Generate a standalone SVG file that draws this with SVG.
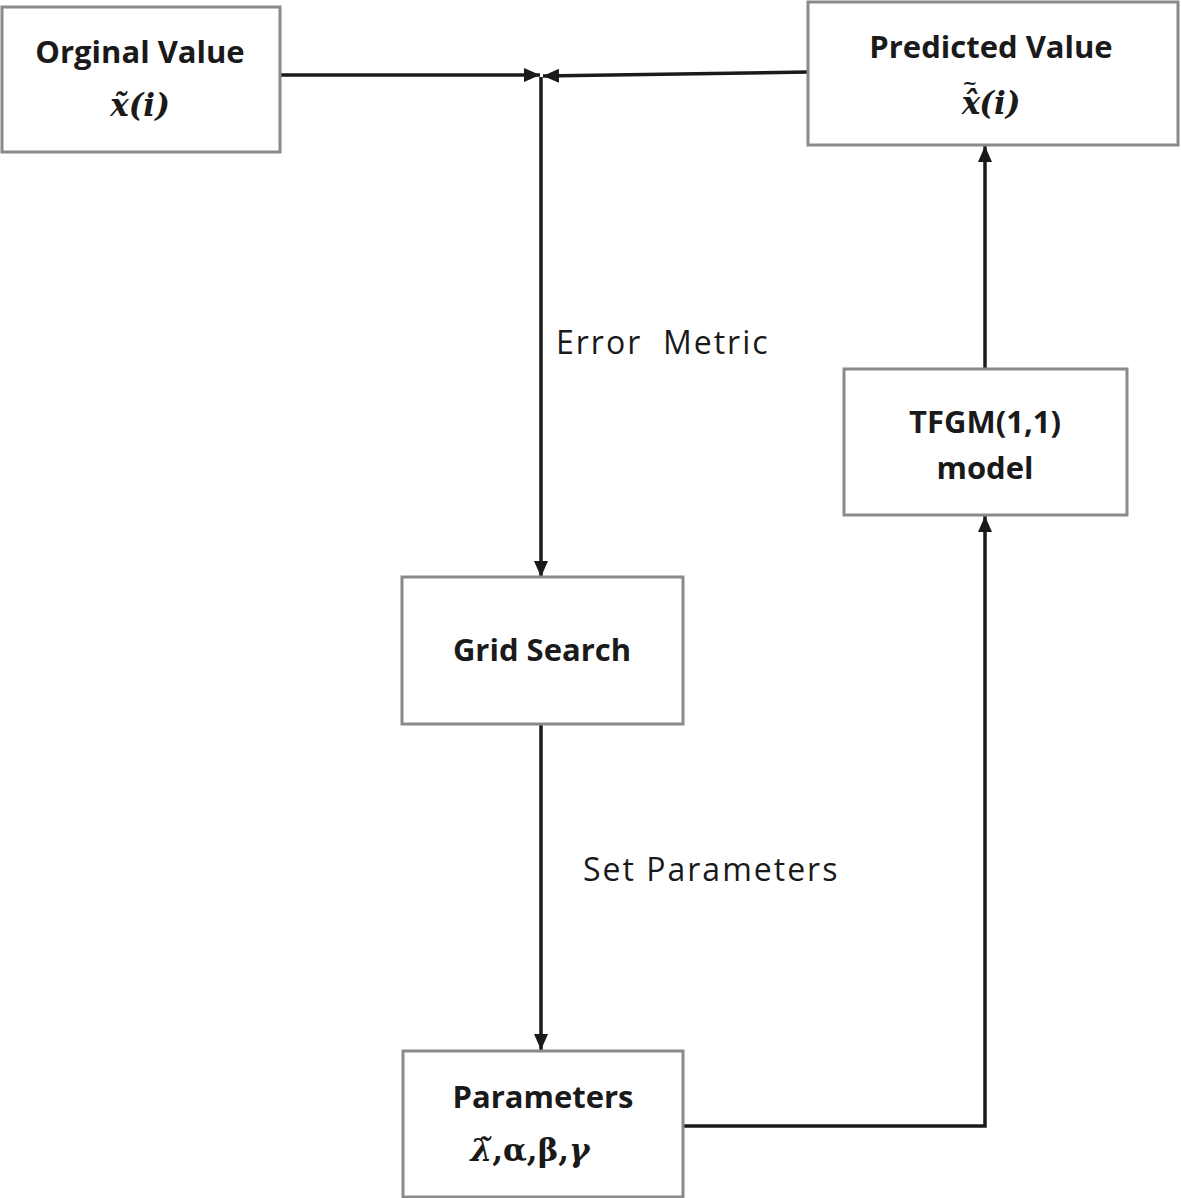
<svg xmlns="http://www.w3.org/2000/svg" width="1181" height="1198" viewBox="0 0 1181 1198">
<style>
.box{fill:#fff;stroke:#8a8a8a;stroke-width:3}
.lbl{font-family:"Open Sans","Noto Sans",sans-serif;font-weight:700;font-size:31px;fill:#1a1a1a;text-anchor:middle}
.edge{font-family:"Open Sans","Noto Sans",sans-serif;font-weight:500;font-size:32px;letter-spacing:2px;fill:#1a1a1a;white-space:pre}
.math{font-family:"DejaVu Serif","Liberation Serif",serif;font-weight:bold;font-style:italic;font-size:31px;fill:#1a1a1a;text-anchor:middle}
.ln{fill:none;stroke:#1a1a1a;stroke-width:3.5}
</style>
<defs>
<marker id="a" viewBox="0 0 16 14" refX="16" refY="7" markerWidth="16" markerHeight="14" markerUnits="userSpaceOnUse" orient="auto">
<path d="M0,0 L16,7 L0,14 Z" fill="#1a1a1a"/>
</marker>
</defs>
<rect width="1181" height="1198" fill="#fff"/>
<g id="connectors">
<path class="ln" d="M280,75 L540,75" marker-end="url(#a)"/>
<path class="ln" d="M808,72 L543,76" marker-end="url(#a)"/>
<path class="ln" d="M541,77 L541,577" marker-end="url(#a)"/>
<path class="ln" d="M541,724 L541,1050" marker-end="url(#a)"/>
<path class="ln" d="M683,1126 L985,1126 L985,516" marker-end="url(#a)"/>
<path class="ln" d="M985,369 L985,146" marker-end="url(#a)"/>
<text class="edge" x="556" y="354" xml:space="preserve">Error  Metric</text>
<text class="edge" x="583" y="881" letter-spacing="2.6">Set Parameters</text>
</g>
<g id="original">
<rect class="box" x="2" y="7" width="278" height="145"/>
<text class="lbl" x="140" y="63">Orginal Value</text>
<text class="math" x="140" y="116">x̃(i)</text>
</g>
<g id="predicted">
<rect class="box" x="808" y="2" width="370" height="143"/>
<text class="lbl" x="991" y="58">Predicted Value</text>
<text class="math" x="991" y="114"><tspan>x̂</tspan><tspan dx="-18" dy="-25" font-size="18" font-style="normal">~</tspan><tspan dx="2" dy="25">(i)</tspan></text>
</g>
<g id="tfgm">
<rect class="box" x="844" y="369" width="283" height="146"/>
<text class="lbl" x="985" y="433">TFGM(1,1)</text>
<text class="lbl" x="985" y="479">model</text>
</g>
<g id="grid">
<rect class="box" x="402" y="577" width="281" height="147"/>
<text class="lbl" x="542" y="661">Grid Search</text>
</g>
<g id="params">
<rect class="box" x="403" y="1051" width="280" height="146"/>
<text class="lbl" x="543" y="1108">Parameters</text>
<text class="math" x="530" y="1161"><tspan>λ̃</tspan><tspan font-style="normal">,α,β,</tspan><tspan>γ</tspan></text>
</g>
</svg>
